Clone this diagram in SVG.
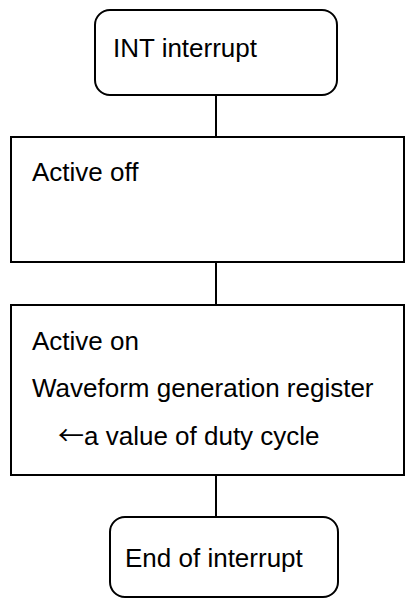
<svg xmlns="http://www.w3.org/2000/svg" width="415" height="599" viewBox="0 0 415 599">
  <style>
    .box { fill: #ffffff; stroke: #000000; stroke-width: 2; }
    .link { stroke: #000000; stroke-width: 2; fill: none; }
    text { font-family: "Liberation Sans", Arial, sans-serif; font-size: 26px; fill: #000000; }
    .wide { font-family: "Noto Sans CJK JP", "Liberation Sans", sans-serif; }
  </style>
  <rect width="415" height="599" fill="#ffffff"/>
  <g id="connectors">
    <line class="link" x1="216" y1="95" x2="216" y2="137"/>
    <line class="link" x1="216" y1="262" x2="216" y2="305"/>
    <line class="link" x1="216" y1="475" x2="216" y2="517"/>
  </g>
  <g id="start">
    <rect class="box" x="95" y="10" width="242" height="85" rx="15" ry="15"/>
    <text x="113" y="57">INT interrupt</text>
  </g>
  <g id="active-off">
    <rect class="box" x="11" y="137" width="393" height="125"/>
    <text x="32" y="181">Active off</text>
  </g>
  <g id="active-on">
    <rect class="box" x="11" y="305" width="393" height="170"/>
    <text x="32" y="350">Active on</text>
    <text x="32" y="397">Waveform generation register</text>
    <text x="58" y="445"><tspan class="wide">←</tspan><tspan x="84">a value of duty cycle</tspan></text>
  </g>
  <g id="end">
    <rect class="box" x="110" y="517" width="228" height="80" rx="15" ry="15"/>
    <text x="125" y="567">End of interrupt</text>
  </g>
</svg>
